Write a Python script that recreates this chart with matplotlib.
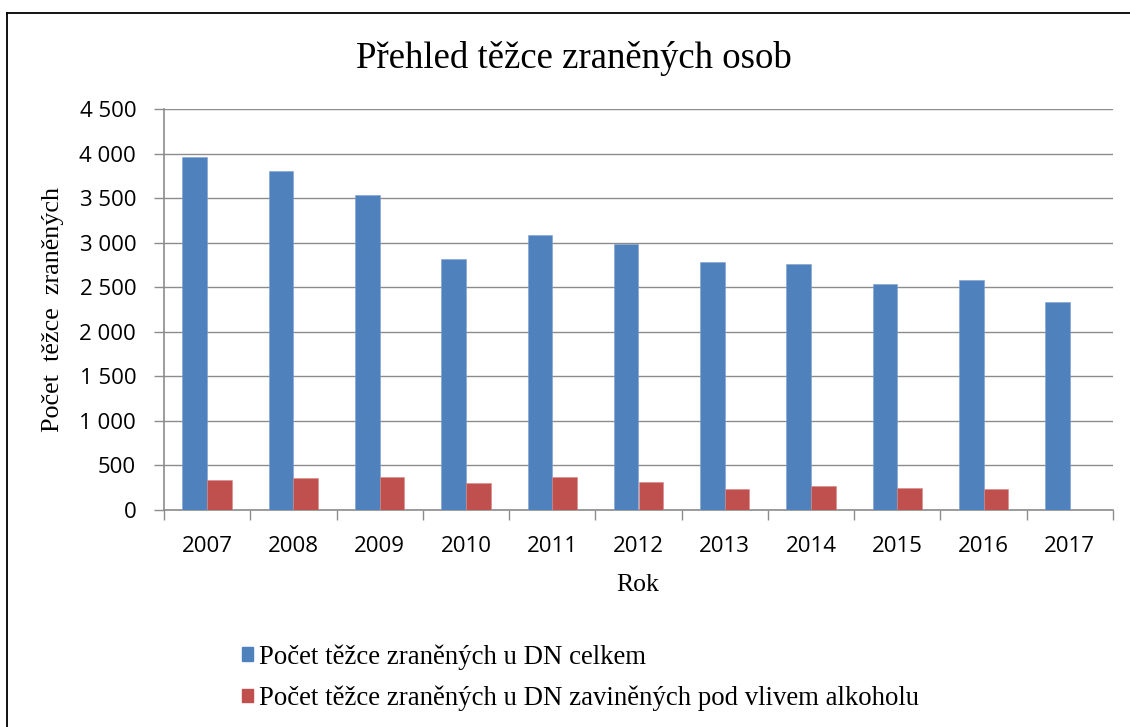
import matplotlib
matplotlib.use("Agg")
import matplotlib.pyplot as plt
import numpy as np
from matplotlib.ticker import FuncFormatter, FixedLocator
from matplotlib.patches import Patch
from matplotlib.lines import Line2D


years = ["2007", "2008", "2009", "2010", "2011", "2012",
         "2013", "2014", "2015", "2016", "2017"]
celkem = [3958, 3808, 3532, 2821, 3090, 2985, 2780, 2761, 2536, 2578, 2338]
alkohol = [337, 359, 367, 307, 373, 310, 232, 273, 243, 232, 0]

BLUE = "#4F81BD"
RED = "#C0504D"
GRID = "#8C8C8C"
SERIF = "Liberation Serif"
SANS = "Open Sans"

W, H = 1130, 727
fig = plt.figure(figsize=(W / 100, H / 100), dpi=100)
ax = fig.add_axes([164 / W, 1 - 510 / H, (1113 - 164) / W, (510 - 109) / H])

x = np.arange(len(years))
bw = 1 / 3.5
ax.bar(x - bw / 2, celkem, width=bw, color=BLUE, edgecolor="#7DA0CF", linewidth=0.4, zorder=3)
ax.bar(x + bw / 2, alkohol, width=bw, color=RED, edgecolor="#D58A88", linewidth=0.4, zorder=3)

ax.set_xlim(-0.5, len(years) - 0.5)
ax.set_ylim(0, 4500)
ax.set_yticks(np.arange(0, 4501, 500))
ax.yaxis.set_major_formatter(FuncFormatter(lambda v, p: f"{v:,.0f}".replace(",", " ")))
ax.grid(axis="y", color=GRID, linewidth=1.0, zorder=0)

# labels at category centres, tick marks between categories
ax.set_xticks(x)
ax.set_xticklabels(years)
ax.xaxis.set_minor_locator(FixedLocator(np.arange(-0.5, len(years), 1)))
ax.tick_params(axis="x", which="major", length=0, pad=19)
ax.tick_params(axis="x", which="minor", length=7, width=1, color=GRID)
ax.tick_params(axis="y", length=7, width=1, color=GRID, pad=13)
for lab in ax.get_xticklabels() + ax.get_yticklabels():
    lab.set_fontfamily(SANS)
    lab.set_fontsize(16)

for s in ["top", "right"]:
    ax.spines[s].set_visible(False)
for s in ["left", "bottom"]:
    ax.spines[s].set_color(GRID)
    ax.spines[s].set_linewidth(1.2)

fig.text(574 / W, 1 - 58 / H, "Přehled těžce zraněných osob", family=SERIF,
         fontsize=26.5, ha="center", va="center")
fig.text(53 / W, 1 - 310 / H, "Počet  těžce  zraněných", family=SERIF,
         fontsize=18.8, rotation=90, ha="center", va="center")
fig.text(638 / W, 1 - 585 / H, "Rok", family=SERIF, fontsize=18.5,
         ha="center", va="center")

handles = [Patch(color=BLUE), Patch(color=RED)]
labels = ["Počet těžce zraněných u DN celkem",
          "Počet těžce zraněných u DN zaviněných pod vlivem alkoholu"]
fig.legend(handles, labels, loc="upper left", bbox_to_anchor=(242 / W, 1 - 644 / H),
           frameon=False, prop={"family": SERIF, "size": 19.3},
           handlelength=0.42, handleheight=0.42, handletextpad=0.2,
           labelspacing=0.6, borderpad=0, borderaxespad=0)

# outer frame of the chart object
fig.add_artist(Line2D([7 / W, 7 / W], [0, 1 - 13 / H], color="black", linewidth=1.3,
                      transform=fig.transFigure))
fig.add_artist(Line2D([7 / W, 1], [1 - 13 / H, 1 - 13 / H], color="black", linewidth=1.3,
                      transform=fig.transFigure))

fig.savefig("out.png", dpi=100)
